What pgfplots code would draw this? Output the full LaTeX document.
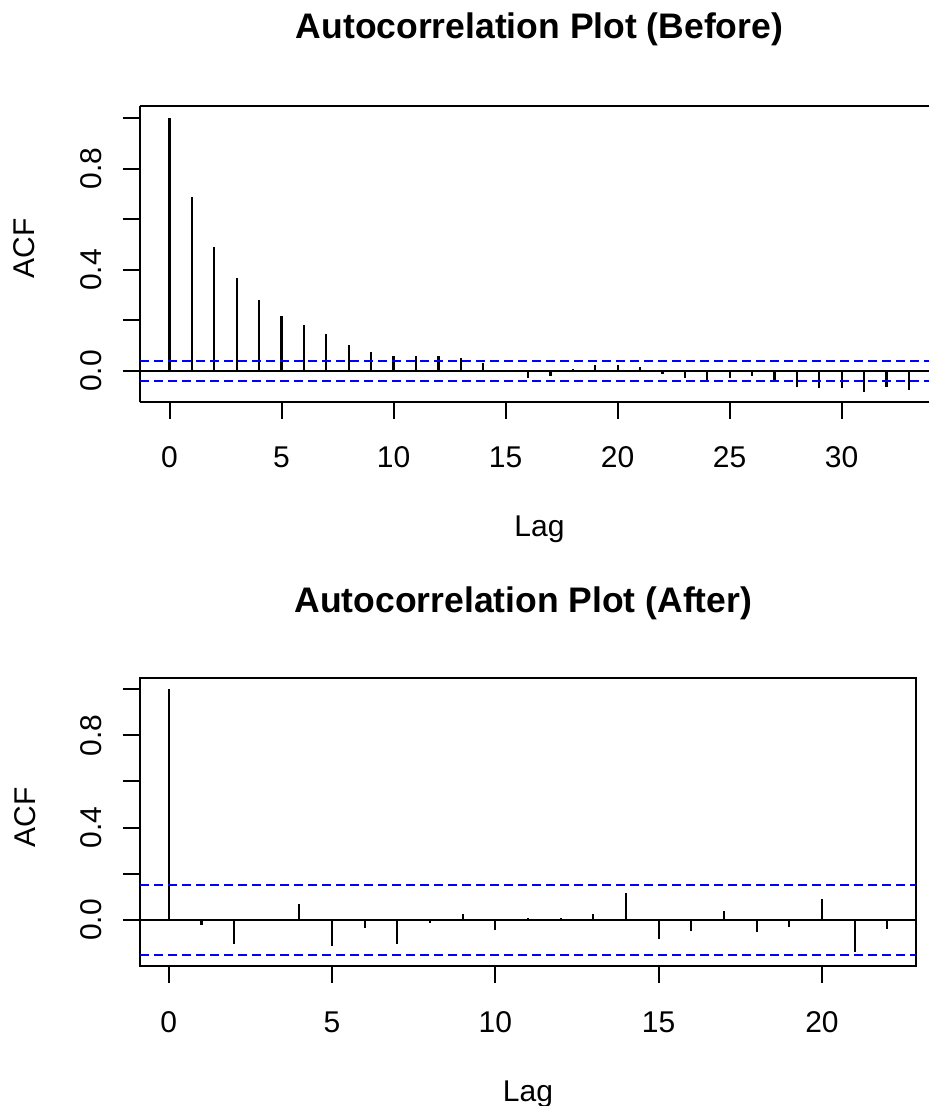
\documentclass[border=0pt]{standalone}
\usepackage{fontspec}
\setmainfont{Liberation Sans}
\usepackage{graphicx}
\usepackage{pgfplots}
\pgfplotsset{compat=1.18}
\definecolor{ciblue}{RGB}{0,0,255}
\pgfplotstableread{
lag acf
0 1.000
1 0.690
2 0.490
3 0.367
4 0.282
5 0.217
6 0.181
7 0.145
8 0.103
9 0.074
10 0.059
11 0.059
12 0.059
13 0.053
14 0.030
15 0.003
16 -0.026
17 -0.019
18 0.009
19 0.025
20 0.025
21 0.017
22 -0.011
23 -0.026
24 -0.045
25 -0.026
26 -0.019
27 -0.042
28 -0.062
29 -0.069
30 -0.069
31 -0.084
32 -0.062
33 -0.075
}\before
\pgfplotstableread{
lag acf
0 1.000
1 -0.022
2 -0.105
3 0.001
4 0.069
5 -0.114
6 -0.036
7 -0.105
8 -0.014
9 0.025
10 -0.043
11 0.008
12 0.008
13 0.026
14 0.115
15 -0.084
16 -0.047
17 0.039
18 -0.053
19 -0.032
20 0.092
21 -0.137
22 -0.038
}\after
\newcommand{\lblfont}{\fontsize{15}{18}\selectfont}
\pgfplotsset{
  acfstyle/.style={
    scale only axis,
    axis line style={line width=1pt, black, -},
    tick align=outside,
    tick pos=left,
    major tick length=8.5pt,
    major tick style={line width=1pt, black},
    ytick={0,0.2,0.4,0.6,0.8,1.0},
    yticklabels={\rotatebox{90}{0.0},,\rotatebox{90}{0.4},,\rotatebox{90}{0.8},},
    tick label style={font=\lblfont, inner sep=0pt},
    yticklabel style={anchor=east, xshift=-10.5pt},
    xticklabel style={anchor=base, yshift=-24.5pt},
    /pgf/number format/assume math mode=true,
    label style={font=\lblfont, inner sep=0pt},
    every axis title shift=0pt,
    title style={font=\fontsize{17.75}{21}\selectfont\bfseries, inner sep=0pt, anchor=base},
    xlabel={Lag}, ylabel={ACF},
    clip=true,
  },
}
\begin{document}
\begin{tikzpicture}
% Top axis (its right side runs past the edge of the picture)
\begin{axis}[acfstyle,
  axis x line=box, axis y line*=left,
  at={(70pt,352pt)}, anchor=south west,
  width=394.5pt, height=148pt,
  xmin=-1.32, xmax=33.90, ymin=-0.1227, ymax=1.0486,
  xtick={0,5,10,15,20,25,30},
  title={Autocorrelation Plot (Before)},
  title style={at={(axis description cs:0.5063,1.2264)}},
  xlabel style={at={(axis description cs:0.5063,-0.456)}, anchor=base, font=\lblfont, inner sep=0pt},
  ylabel style={at={(axis description cs:-0.1331,0.52)}, anchor=base, font=\lblfont, inner sep=0pt},
]
\addplot[ycomb, black, line width=1.1pt, mark=none] table[x=lag, y=acf] {\before};
\addplot[black, line width=1pt] coordinates {(-2,0) (36,0)};
\addplot[ciblue, line width=1pt, dash pattern=on 4.25pt off 2.75pt] coordinates {(-1.32,0.04) (36,0.04)};
\addplot[ciblue, line width=1pt, dash pattern=on 4.25pt off 2.75pt] coordinates {(-1.32,-0.04) (36,-0.04)};
\end{axis}
% Bottom axis
\begin{axis}[acfstyle,
  at={(70pt,70pt)}, anchor=south west,
  width=388pt, height=144pt,
  xmin=-0.88, xmax=22.88, ymin=-0.199, ymax=1.0476,
  xtick={0,5,10,15,20},
  title={Autocorrelation Plot (After)},
  title style={at={(axis description cs:0.494,1.2257)}},
  xlabel style={at={(axis description cs:0.5,-0.469)}, anchor=base},
  ylabel style={at={(axis description cs:-0.1353,0.517)}, anchor=base},
]
\addplot[ycomb, black, line width=1.1pt, mark=none] table[x=lag, y=acf] {\after};
\addplot[black, line width=1pt] coordinates {(-2,0) (24,0)};
\addplot[ciblue, line width=1pt, dash pattern=on 4.25pt off 2.75pt] coordinates {(-0.88,0.153) (24,0.153)};
\addplot[ciblue, line width=1pt, dash pattern=on 4.25pt off 2.75pt] coordinates {(-0.88,-0.153) (24,-0.153)};
\end{axis}
\pgfresetboundingbox
\useasboundingbox (0,0) rectangle (464.5pt,553pt);
\end{tikzpicture}
\end{document}
